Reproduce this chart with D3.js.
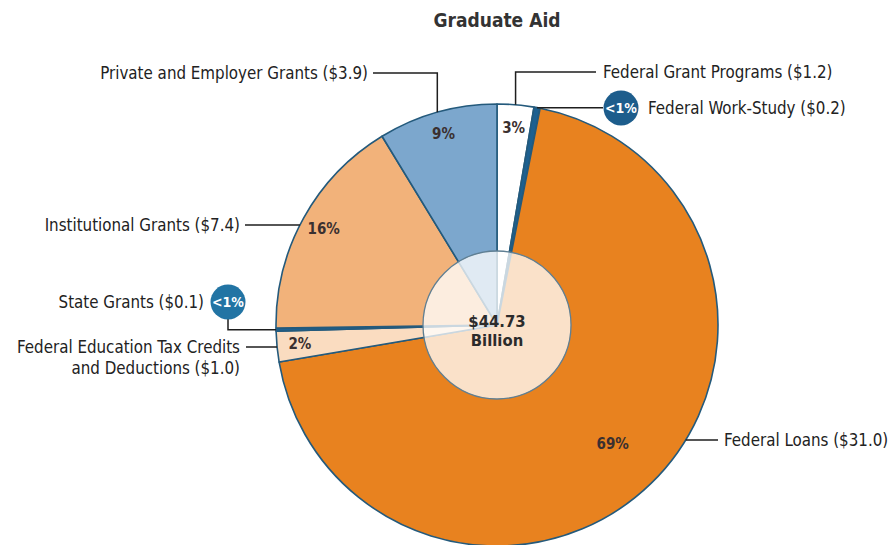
<!DOCTYPE html>
<html>
<head>
<meta charset="utf-8">
<script src="https://cdn.jsdelivr.net/npm/d3@7"></script>
<style>
  html, body { margin: 0; padding: 0; background: #ffffff; }
  svg { display: block; }
  text { font-family: "DejaVu Sans Condensed", "Liberation Sans Narrow", sans-serif; }
</style>
</head>
<body>
<svg id="chart" width="892" height="545"></svg>
<script>
// Graduate aid by source, billions of dollars (clockwise from 12 o'clock)
const categories = [
  "Federal Grant Programs",
  "Federal Work-Study",
  "Federal Loans",
  "Federal Education Tax Credits and Deductions",
  "State Grants",
  "Institutional Grants",
  "Private and Employer Grants"
];
const amounts = [1.2, 0.2, 31.0, 1.0, 0.1, 7.4, 3.9];
const shareLabels = ["3%", "<1%", "69%", "2%", "<1%", "16%", "9%"];
const calloutLabels = [
  ["Federal Grant Programs ($1.2)"],
  ["Federal Work-Study ($0.2)"],
  ["Federal Loans ($31.0)"],
  ["Federal Education Tax Credits", "and Deductions ($1.0)"],
  ["State Grants ($0.1)"],
  ["Institutional Grants ($7.4)"],
  ["Private and Employer Grants ($3.9)"]
];
const totalLabel = ["$44.73", "Billion"];
const title = "Graduate Aid";

const sliceColors = ["#ffffff", "#1d6090", "#e8821f", "#fadcc0", "#1d6090", "#f2b27a", "#7ca7cd"];

const svg = d3.select("#chart");
const cx = 497, cy = 325, R = 221, rInner = 74;

svg.append("text")
  .attr("x", cx).attr("y", 27)
  .attr("text-anchor", "middle")
  .attr("font-size", 19).attr("font-weight", "bold")
  .attr("fill", "#333")
  .text(title);

const data = categories.map((c, i) => ({ name: c, value: amounts[i], share: shareLabels[i], color: sliceColors[i], lines: calloutLabels[i] }));

const pie = d3.pie().sort(null).value(d => d.value);
const arcs = pie(data);
const arc = d3.arc().innerRadius(0).outerRadius(R);

const g = svg.append("g").attr("transform", `translate(${cx},${cy})`);

g.selectAll("path.slice")
  .data(arcs)
  .join("path")
  .attr("class", "slice")
  .attr("d", arc)
  .attr("fill", d => d.data.color)
  .attr("stroke", "#245a7c")
  .attr("stroke-width", 1.6)
  .attr("stroke-linejoin", "round");

// Translucent hub over the slices
g.append("circle")
  .attr("r", rInner)
  .attr("fill", "#ffffff")
  .attr("fill-opacity", 0.76)
  .attr("stroke", "#5f7f93")
  .attr("stroke-width", 1.3);

g.selectAll("text.total")
  .data(totalLabel)
  .join("text")
  .attr("class", "total")
  .attr("x", 0)
  .attr("y", (d, i) => 2 + i * 19)
  .attr("text-anchor", "middle")
  .attr("font-size", 16.5).attr("font-weight", "bold")
  .attr("fill", "#2b2b2b")
  .text(d => d);

// Percent labels inside the larger slices
const mid = a => (a.startAngle + a.endAngle) / 2;
const polar = (ang, r) => [cx + r * Math.sin(ang), cy - r * Math.cos(ang)];
const shareRadius = a => (a.endAngle - a.startAngle > Math.PI ? 166 : 198);

svg.selectAll("text.share")
  .data(arcs.filter(a => a.data.share !== "<1%"))
  .join("text")
  .attr("class", "share")
  .attr("x", a => polar(mid(a), shareRadius(a))[0])
  .attr("y", a => polar(mid(a), shareRadius(a))[1] + 5)
  .attr("text-anchor", "middle")
  .attr("font-size", 15).attr("font-weight", "bold")
  .attr("fill", "#3a3030")
  .text(a => a.data.share);

// Callout layout: label anchor and elbow routing for each slice
const edgeX = (y, side) => cx + side * Math.sqrt(R * R - (y - cy) * (y - cy));
const layout = [
  { // Federal Grant Programs: up from slice, then right
    tx: 603, ty: 72, anchor: "start",
    path: a => { const p = polar(mid(a), R); return [p, [p[0], 72], [596, 72]]; }
  },
  { // Federal Work-Study: badge to the right
    tx: 648, ty: 108, anchor: "start", badge: [621, 108],
    path: a => { const p = polar(mid(a), R); return [p, [603, p[1]]]; }
  },
  { // Federal Loans
    tx: 724, ty: 440, anchor: "start",
    path: a => [[edgeX(440, 1), 440], [718, 440]]
  },
  { // Federal Education Tax Credits
    tx: 240, ty: 347, anchor: "end",
    path: a => [[edgeX(347, -1), 347], [246, 347]]
  },
  { // State Grants: badge, then down and across to slice
    tx: 204, ty: 302, anchor: "end", badge: [228, 302],
    path: a => { const p = polar(mid(a), R); return [[228, 318], [228, p[1]], p]; }
  },
  { // Institutional Grants
    tx: 240, ty: 225, anchor: "end",
    path: a => [[edgeX(225, -1), 225], [245, 225]]
  },
  { // Private and Employer Grants
    tx: 368, ty: 73, anchor: "end",
    path: a => { const p = polar(mid(a), R); return [p, [p[0], 73], [373, 73]]; }
  }
];

const line = d3.line();
arcs.forEach((a, i) => {
  const L = layout[i];
  svg.append("path")
    .attr("d", line(L.path(a)))
    .attr("fill", "none")
    .attr("stroke", "#1e1e1e")
    .attr("stroke-width", 1.5);

  if (L.badge) {
    svg.append("circle")
      .attr("cx", L.badge[0]).attr("cy", L.badge[1])
      .attr("r", 17.5)
      .attr("fill", i === 1 ? "#1d5d8c" : "#2274a4");
    svg.append("text")
      .attr("x", L.badge[0]).attr("y", L.badge[1] + 5)
      .attr("text-anchor", "middle")
      .attr("font-size", 14).attr("font-weight", "bold")
      .attr("fill", "#ffffff")
      .text(a.data.share);
  }

  const t = svg.append("text")
    .attr("x", L.tx).attr("y", L.ty + 6)
    .attr("text-anchor", L.anchor)
    .attr("font-size", 16.8)
    .attr("fill", "#222");
  a.data.lines.forEach((s, k) => {
    t.append("tspan").attr("x", L.tx).attr("dy", k === 0 ? 0 : 21).text(s);
  });
});
</script>
</body>
</html>
